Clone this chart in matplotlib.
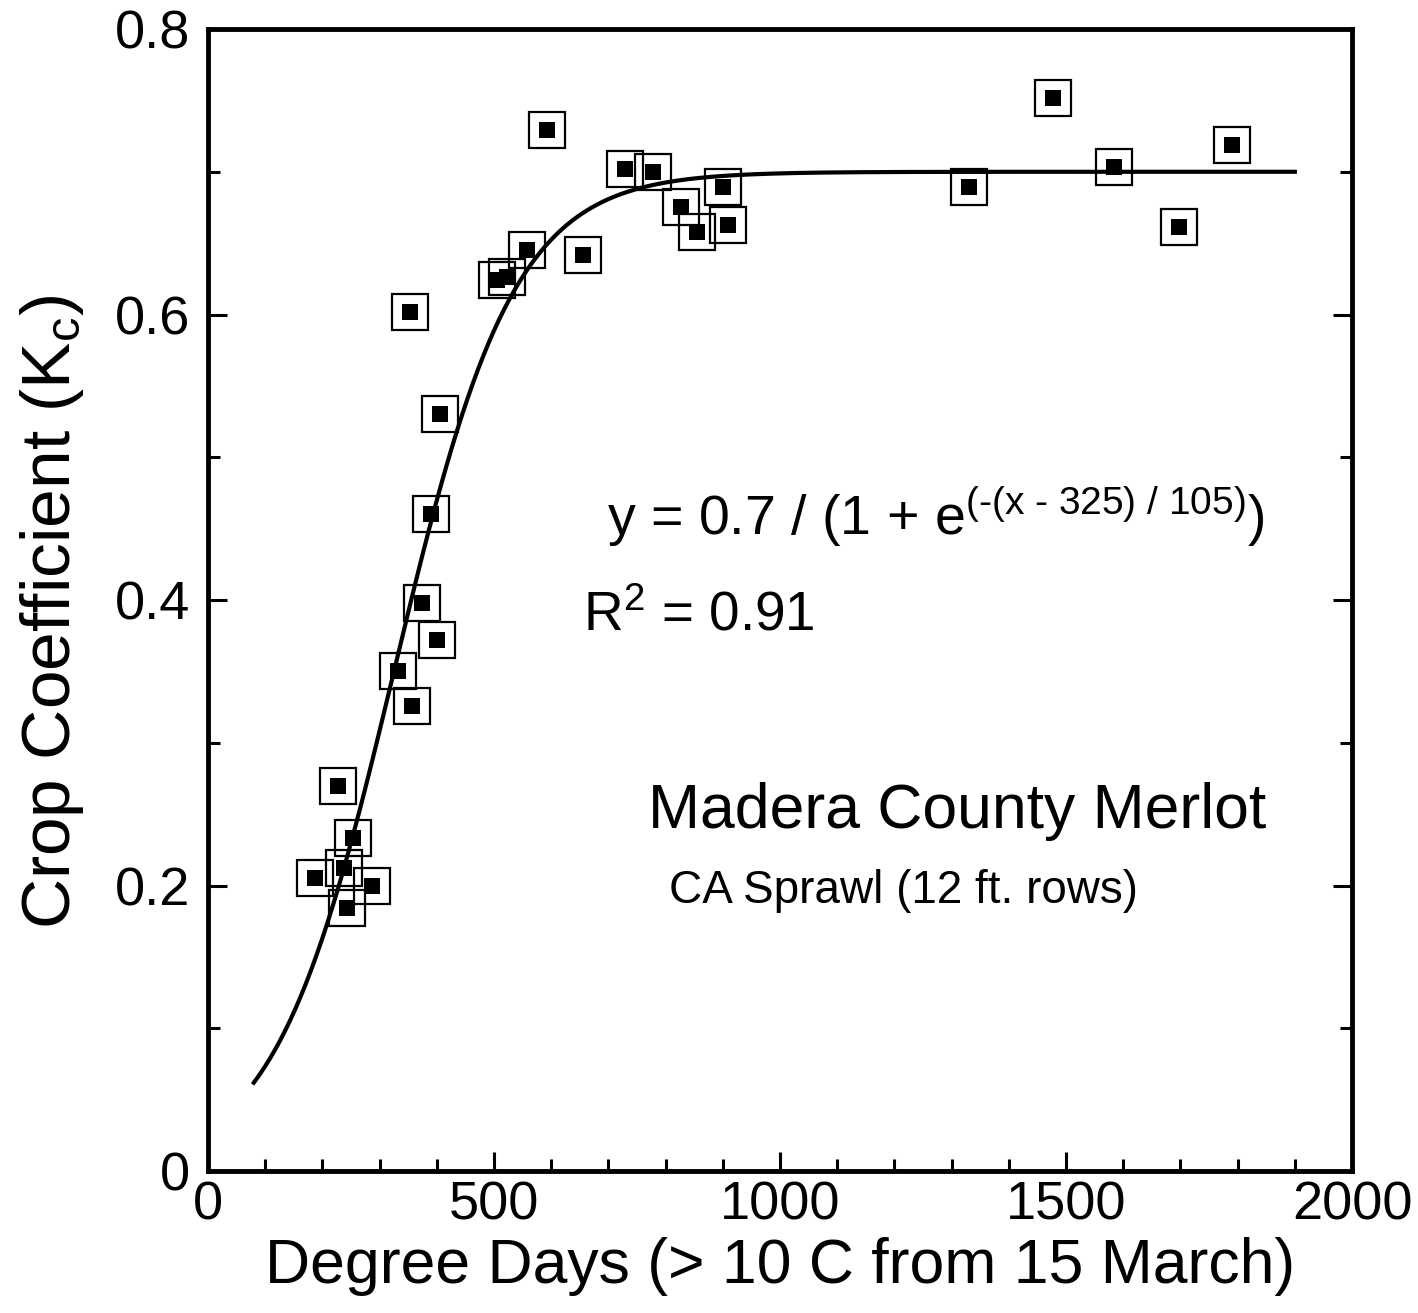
import numpy as np
import matplotlib
matplotlib.use("Agg")
import matplotlib.pyplot as plt

plt.rcParams['font.family'] = ['Liberation Sans', 'DejaVu Sans']
plt.rcParams['mathtext.fontset'] = 'custom'
plt.rcParams['mathtext.rm'] = 'Liberation Sans'
plt.rcParams['mathtext.it'] = 'Liberation Sans'
plt.rcParams['mathtext.default'] = 'regular'

# Data measured (degree days, crop coefficient)
degree_days = [187, 227, 238, 243, 253, 287, 332, 357, 353, 374, 400, 390, 406,
               505, 523, 558, 593, 656, 729, 778, 827, 855, 900, 909,
               1330, 1477, 1584, 1698, 1790]
kc = [0.205, 0.270, 0.212, 0.184, 0.233, 0.200, 0.350, 0.326, 0.602, 0.398, 0.372, 0.460, 0.530,
      0.624, 0.626, 0.645, 0.729, 0.642, 0.702, 0.700, 0.675, 0.658, 0.689, 0.663,
      0.689, 0.752, 0.703, 0.661, 0.719]

# Fitted logistic curve parameters (from the equation shown on the chart)
fit_a = 0.7
fit_x0 = 325
fit_b = 105
fit_start = 80
fit_end = 1900

x_ticks = [0, 500, 1000, 1500, 2000]
y_ticks = [0, 0.2, 0.4, 0.6, 0.8]
y_tick_labels = ["0", "0.2", "0.4", "0.6", "0.8"]

fig = plt.figure(figsize=(14.18, 13.13), dpi=100)
ax = fig.add_axes([0.1467, 0.1081, 0.9535 - 0.1467, 0.9779 - 0.1081])

xf = np.linspace(fit_start, fit_end, 400)
yf = fit_a / (1 + np.exp(-(xf - fit_x0) / fit_b))
ax.plot(xf, yf, color="black", linewidth=3.0, zorder=2)

# open squares + filled squares
ax.plot(degree_days, kc, linestyle="none", marker="s", markersize=25.5,
        markerfacecolor="none", markeredgecolor="black", markeredgewidth=1.6, zorder=3)
ax.plot(degree_days, kc, linestyle="none", marker="s", markersize=11.5,
        markerfacecolor="black", markeredgewidth=0, zorder=4)

ax.set_xlim(0, 2000)
ax.set_ylim(0, 0.8)
ax.set_xticks(x_ticks)
ax.set_xticks(np.arange(0, 2001, 100), minor=True)
ax.set_yticks(y_ticks)
ax.set_yticklabels(y_tick_labels)
ax.set_yticks(np.arange(0, 0.81, 0.1), minor=True)

for s in ax.spines.values():
    s.set_linewidth(3.5)

ax.tick_params(axis="both", which="major", direction="in", length=14, width=2.2,
               labelsize=39, right=True, top=False)
ax.tick_params(axis="both", which="minor", direction="in", length=8.5, width=2.2,
               right=True, top=False)
ax.tick_params(axis="x", which="major", pad=7)
ax.tick_params(axis="y", which="major", pad=13)

ax.set_xlabel("Degree Days (> 10 C from 15 March)", fontsize=45)
ax.xaxis.set_label_coords(0.5, -0.058)
ax.set_ylabel("Crop Coefficient (K$_c$)", fontsize=50)
ax.yaxis.set_label_coords(-0.107, 0.49)

ax.text(0.3488, 0.557, r"y = 0.7 / (1 + e$^{\text{(-(x - 325) / 105)}}$)",
        transform=ax.transAxes, fontsize=40, va="baseline", ha="left")
ax.text(0.328, 0.4737, "R$^2$ = 0.91", transform=ax.transAxes, fontsize=39.5,
        va="baseline", ha="left")
ax.text(0.3846, 0.3004, "Madera County Merlot", transform=ax.transAxes, fontsize=45,
        va="baseline", ha="left")
ax.text(0.403, 0.2347, "CA Sprawl (12 ft. rows)", transform=ax.transAxes, fontsize=33,
        va="baseline", ha="left")

fig.savefig("out.png", dpi=100)
